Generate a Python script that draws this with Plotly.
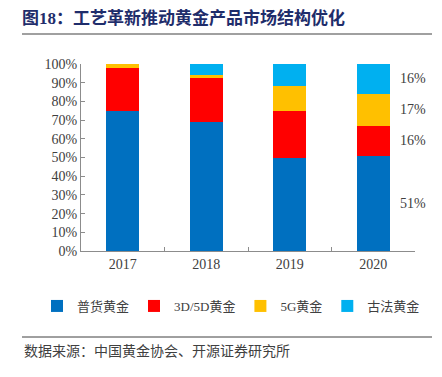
import plotly.graph_objects as go

years = ["2017", "2018", "2019", "2020"]
series_names = ["普货黄金", "3D/5D黄金", "5G黄金", "古法黄金"]
putong = [75, 69, 50, 51]
d3d5d = [23, 24, 25, 16]
g5 = [2, 1, 13, 17]
gufa = [0, 6, 12, 16]
colors = ["#0070C0", "#FF0000", "#FFC000", "#00B0F0"]
label_2020 = ["51%", "16%", "17%", "16%"]

serif = "Liberation Serif, Noto Sans CJK SC"
cjk = "Liberation Serif, Noto Sans CJK SC"

fig = go.Figure()
all_series = [putong, d3d5d, g5, gufa]
for name, vals, c in zip(series_names, all_series, colors):
    fig.add_trace(go.Bar(x=years, y=vals, name=name, marker=dict(color=c, line=dict(width=0))))

# right-hand labels for 2020 segments
cum = 0
last_idx = len(years) - 1
for vals, lab in zip(all_series, label_2020):
    v = vals[-1]
    center = cum + v / 2
    cum += v
    fig.add_annotation(x=last_idx, y=center, text=lab, showarrow=False,
                       xanchor="left", yanchor="middle", xshift=25,
                       font=dict(family=serif, size=14, color="#404040"))

W, H = 442, 377
OFF = 8  # default page body margin: figure is drawn 8px right/down in the window
# plot area in window pixels: x 81..415, y 64..251
L = 81 - OFF
T = 64 - OFF
R = W - (415 - OFF)
B = H - (251 - OFF)
pw, ph = W - L - R, H - T - B

def px(x):  # window x -> paper
    return (x - OFF - L) / pw

def py(y):  # window y -> paper
    return (H - B - (y - OFF)) / ph

fig.update_layout(
    width=W, height=H,
    margin=dict(l=L, r=R, t=T, b=B, autoexpand=False),
    barmode="stack", bargap=0.6,
    plot_bgcolor="white", paper_bgcolor="white",
    title=dict(text="<b>图18：工艺革新推动黄金产品市场结构优化</b>",
               x=(22 - OFF) / W, xanchor="left", y=1 - (18 - OFF) / H, yanchor="middle",
               font=dict(family=cjk, size=17, color="#1F2D6B")),
    showlegend=True,
    legend=dict(orientation="h", x=px(37), xanchor="left", y=py(306), yanchor="middle",
                traceorder="normal", font=dict(family=cjk, size=13, color="#404040"),
                bgcolor="rgba(0,0,0,0)", itemwidth=30),
    xaxis=dict(type="category", range=[-0.5, len(years) - 0.5], showline=True,
               linecolor="#8c8c8c", linewidth=1, automargin=False,
               ticks="inside", ticklen=4, tickcolor="#8c8c8c", tickson="boundaries",
               tickangle=0,
               tickfont=dict(family=serif, size=14, color="#404040"), showgrid=False),
    yaxis=dict(range=[0, 100], dtick=10, ticksuffix="%", showline=True, linecolor="#8c8c8c",
               linewidth=1, ticks="inside", ticklen=4, tickcolor="#8c8c8c", showgrid=False,
               zeroline=False, automargin=False,
               tickfont=dict(family=serif, size=14, color="#404040")),
)
fig.add_shape(type="line", xref="paper", yref="paper", x0=px(22), x1=px(432), y0=py(34), y1=py(34),
              line=dict(color="#a0a0a0", width=2))
fig.add_shape(type="line", xref="paper", yref="paper", x0=px(22), x1=px(432), y0=py(337), y1=py(337),
              line=dict(color="#404040", width=1))
fig.add_annotation(xref="paper", yref="paper", x=px(22), y=py(351), xanchor="left", yanchor="middle",
                   text="数据来源：中国黄金协会、开源证券研究所", showarrow=False,
                   font=dict(family=cjk, size=14, color="#404040"))

fig.write_html("out.html", config={"displayModeBar": False})
